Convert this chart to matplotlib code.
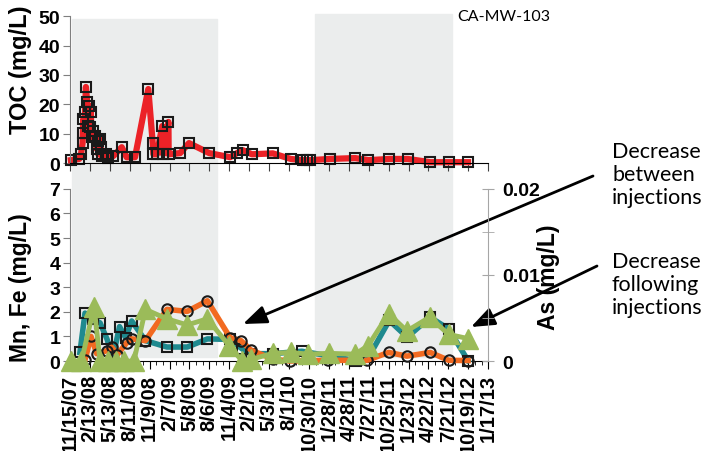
import pandas as pd
import matplotlib
matplotlib.use("Agg")
import matplotlib.pyplot as plt
import matplotlib.dates as mdates
from matplotlib.patches import Rectangle
from matplotlib.transforms import blended_transform_factory

plt.rcParams['font.family'] = ['Liberation Sans', 'DejaVu Sans']

# TOC samples (mg/L)
toc_dates = ["11/19/07", "12/27/07", "1/4/08", "1/11/08", "1/14/08", "1/15/08", "1/22/08",
             "1/26/08", "2/1/08", "2/6/08", "2/10/08", "2/13/08", "2/17/08", "2/21/08",
             "2/28/08", "3/7/08", "3/15/08", "3/21/08", "3/22/08", "3/30/08", "4/2/08",
             "4/6/08", "4/26/08", "5/6/08", "5/29/08", "7/6/08", "7/28/08", "9/4/08",
             "11/3/08", "11/23/08", "11/26/08", "12/12/08", "1/5/09", "1/9/09", "2/2/09",
             "2/3/09", "3/27/09", "5/6/09", "8/5/09", "11/8/09", "12/9/09", "1/4/10",
             "2/14/10", "5/20/10", "8/9/10", "10/3/10", "10/21/10", "11/5/10", "1/31/11",
             "5/27/11", "7/26/11", "10/29/11", "1/20/12", "4/30/12", "7/22/12", "10/18/12"]
toc = [1.0, 1.4, 3.1, 6.8, 15.0, 10.2, 17.3,
       25.9, 20.7, 12.6, 19.4, 12.2, 17.3, 8.8,
       11.0, 9.3, 4.8, 7.5, 3.0, 8.2, 5.4,
       2.4, 3.0, 1.7, 2.4, 5.4, 2.0, 2.0,
       25.2, 6.8, 3.0, 3.0, 12.6, 3.0, 14.0,
       3.0, 3.4, 6.8, 3.4, 2.0, 3.4, 4.4,
       3.0, 3.3, 1.4, 1.0, 1.0, 1.0, 1.4,
       1.7, 1.0, 1.4, 1.4, 0.3, 0.3, 0.3]

# teal series (mg/L)
teal_dates = ["12/30/07", "1/22/08", "2/28/08", "3/30/08", "4/30/08", "5/27/08", "6/26/08",
              "7/23/08", "8/20/08", "10/21/08", "1/26/09", "4/28/09", "7/28/09", "11/8/09",
              "12/31/09", "2/8/10", "5/20/10", "9/28/10", "5/29/11", "7/26/11", "10/28/11",
              "1/17/12", "4/30/12", "7/23/12", "10/18/12"]
teal = [0.35, 1.95, 1.7, 1.55, 0.9, 0.15, 1.4,
        0.95, 1.63, 0.83, 0.57, 0.57, 0.9, 0.88,
        0.5, 0.3, 0.3, 0.4, 0.02, 0.15, 1.65,
        0.97, 1.78, 1.3, 0.02]

# orange series (mg/L)
orange_dates = ["1/22/08", "2/18/08", "3/15/08", "4/29/08", "5/22/08", "6/15/08", "7/28/08",
                "8/20/08", "10/21/08", "1/26/09", "4/28/09", "7/28/09", "11/8/09", "12/27/09",
                "2/9/10", "5/20/10", "8/4/10", "1/26/11", "7/20/11", "10/25/11", "1/16/12",
                "4/30/12", "7/23/12", "10/18/12"]
orange = [0.05, 1.0, 0.3, 0.42, 0.56, 0.25, 0.74,
          0.9, 0.83, 2.1, 2.02, 2.45, 0.95, 0.83,
          0.45, 0.08, 0.0, 0.03, 0.03, 0.35, 0.2,
          0.35, 0.03, 0.02]

# As (mg/L), right axis
as_dates = ["11/19/07", "1/6/08", "3/3/08", "3/30/08", "5/5/08", "6/10/08", "7/16/08",
            "8/30/08", "10/21/08", "1/26/09", "4/28/09", "7/28/09", "11/3/09", "1/1/10",
            "2/11/10", "5/20/10", "8/8/10", "10/28/10", "1/27/11", "5/27/11", "7/25/11",
            "10/25/11", "1/16/12", "4/28/12", "7/22/12", "10/20/12"]
as_vals = [0.0, 0.0, 0.0063, 0.0, 0.0, 0.0, 0.0,
           0.0, 0.006, 0.0049, 0.0042, 0.0049, 0.0018, 0.0,
           0.0002, 0.0009, 0.001, 0.0008, 0.0009, 0.0008, 0.0018,
           0.0055, 0.0035, 0.0051, 0.0031, 0.0026]

# injection periods (shaded)
injections = [("11/24/07", "9/10/09"), ("11/27/10", "8/8/12")]

tick_labels = ["11/15/07", "2/13/08", "5/13/08", "8/11/08", "11/9/08", "2/7/09", "5/8/09",
               "8/6/09", "11/4/09", "2/2/10", "5/3/10", "8/1/10", "10/30/10", "1/28/11",
               "4/28/11", "7/27/11", "10/25/11", "1/23/12", "4/22/12", "7/21/12",
               "10/19/12", "1/17/13"]


def d(lst):
    return pd.to_datetime(lst, format="%m/%d/%y")


tick_dates = d(tick_labels)
minor_dates = pd.date_range(tick_dates[0], tick_dates[-1], freq="30D")

fig = plt.figure(figsize=(7.04, 4.52), dpi=100)
ax1 = fig.add_axes([0.0994, 0.637, 0.594, 0.325])
ax2 = fig.add_axes([0.0994, 0.199, 0.594, 0.381])
ax3 = ax2.twinx()
for a in (ax1, ax2, ax3):
    a.set_facecolor("none")
    a.set_xlim(tick_dates[0], tick_dates[-1])
    for s in ("top", "right"):
        a.spines[s].set_visible(False)
ax3.spines["left"].set_visible(False)
ax3.spines["bottom"].set_visible(False)
ax3.spines["right"].set_visible(True)
ax3.spines["right"].set_color("#a6a6a6")
ax1.spines["left"].set_color("#7f7f7f")
ax2.spines["left"].set_color("#7f7f7f")

tfont = dict(fontsize=14, fontweight="bold")

# shaded injection periods across both panels
tr = blended_transform_factory(ax1.transData, fig.transFigure)
tops = [20, 15]
for (s, e), top in zip(injections, tops):
    s, e = mdates.date2num(d([s, e]))
    fig.patches.append(Rectangle((s, 1 - 358 / 452), e - s, (358 - top) / 452,
                                 transform=tr, color="#ebeded", zorder=-5))

# TOC panel
ax1.plot(d(toc_dates), toc, color="#ec2227", lw=4.5, marker="s", ms=7.5,
         mfc="none", mec="#1a1a1a", mew=1.5, clip_on=False)
ax1.set_ylim(0, 50)
ax1.set_yticks(range(0, 51, 10))
ax1.set_xticks(tick_dates)
ax1.set_xticklabels([])
ax1.tick_params(axis="x", length=6, color="#404040")
ax1.tick_params(axis="y", length=5, color="#7f7f7f", pad=2)
for lab in ax1.get_yticklabels():
    lab.set(**tfont)
ax1.set_ylabel("TOC (mg/L)", fontsize=17, fontweight="bold", va="center")
ax1.yaxis.set_label_coords(-0.118, 0.64)

# Mn, Fe panel
ax2.plot(d(teal_dates), teal, color="#1f8a8f", lw=4, marker="s", ms=7.5,
         mfc="none", mec="#1a1a1a", mew=1.5, clip_on=False, zorder=3)
ax2.plot(d(orange_dates), orange, color="#f26a21", lw=4, marker="o", ms=7.5,
         mfc="none", mec="#1a1a1a", mew=1.5, clip_on=False, zorder=4)
ax2.set_ylim(0, 7)
ax2.set_yticks(range(0, 8))
ax2.set_xticks(tick_dates)
ax2.set_xticks(minor_dates, minor=True)
ax2.set_xticklabels(tick_labels, rotation=90, fontsize=14.5, fontweight="bold")
ax2.tick_params(axis="x", which="major", length=6, pad=3)
ax2.tick_params(axis="x", which="minor", length=3)
ax2.tick_params(axis="y", length=5, color="#7f7f7f", pad=2)
for lab in ax2.get_yticklabels():
    lab.set(**tfont)
ax2.set_ylabel("Mn, Fe (mg/L)", fontsize=16.5, fontweight="bold", va="center")
ax2.yaxis.set_label_coords(-0.118, 0.43)

ax3.plot(d(as_dates), as_vals, color="#9bbb59", lw=3.5, marker="^", ms=14,
         mfc="#9bbb59", mec="#9bbb59", clip_on=False, zorder=5)
ax3.set_ylim(0, 0.02)
ax3.set_yticks([0, 0.01, 0.02])
ax3.set_yticklabels(["0", "0.01", "0.02"], **tfont)
ax3.set_yticks([0.005, 0.015], minor=True)
ax3.tick_params(axis="y", which="both", direction="inout", length=8, color="#a6a6a6", pad=6)
ax3.set_zorder(ax2.get_zorder() + 1)
fig.text(549 / 704, 1 - 277 / 452, "As (mg/L)", rotation=90, ha="center", va="center",
         fontsize=16.5, fontweight="bold")

# text and arrows
fig.text(457 / 704, 1 - 17 / 452, "CA-MW-103", fontsize=11.5, family="Lato",
         ha="left", va="center")
nfont = dict(fontsize=15.5, family="Lato", linespacing=1.2, ha="left", va="center")
fig.text(612 / 704, 1 - 175 / 452, "Decrease\nbetween\ninjections", **nfont)
fig.text(612 / 704, 1 - 285 / 452, "Decrease\nfollowing\ninjections", **nfont)
aprops = dict(arrowstyle="-|>,head_length=0.65,head_width=0.25", color="black", lw=2,
              mutation_scale=22, shrinkA=0, shrinkB=0)
ax1.annotate("", xy=(243 / 704, 1 - 325 / 452), xytext=(593 / 704, 1 - 177 / 452),
             xycoords="figure fraction", textcoords="figure fraction", arrowprops=aprops,
             annotation_clip=False)
ax1.annotate("", xy=(471 / 704, 1 - 328 / 452), xytext=(597 / 704, 1 - 267 / 452),
             xycoords="figure fraction", textcoords="figure fraction", arrowprops=aprops,
             annotation_clip=False)

fig.savefig("out.png", dpi=100)
